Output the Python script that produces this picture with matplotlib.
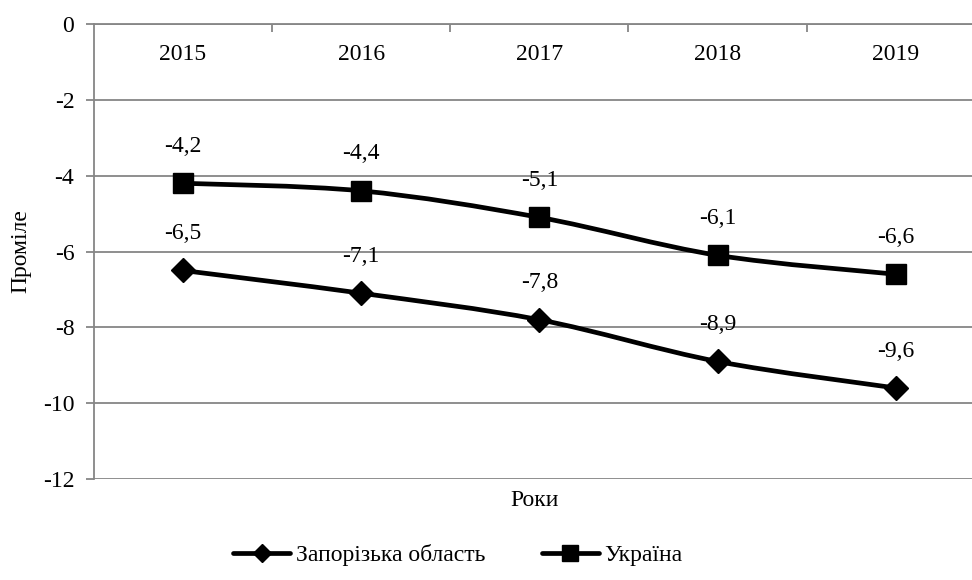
import numpy as np
import matplotlib.pyplot as plt
from matplotlib.path import Path
from matplotlib.patches import PathPatch

plt.rcParams['font.family'] = ['Liberation Serif', 'DejaVu Serif']

years = ['2015', '2016', '2017', '2018', '2019']
zaporizhzhia = [-6.5, -7.1, -7.8, -8.9, -9.6]
ukraine = [-4.2, -4.4, -5.1, -6.1, -6.6]


def smooth_path(x, y):
    # Excel-style smoothed line: cubic Bezier segments with Catmull-Rom tangents
    pts = np.column_stack([x, y]).astype(float)
    verts = [pts[0]]
    codes = [Path.MOVETO]
    n = len(pts)
    for i in range(n - 1):
        p0 = pts[i - 1] if i > 0 else pts[i]
        p1 = pts[i]
        p2 = pts[i + 1]
        p3 = pts[i + 2] if i + 2 < n else pts[i + 1]
        c1 = p1 + (p2 - p0) / 6
        c2 = p2 - (p3 - p1) / 6
        verts += [c1, c2, p2]
        codes += [Path.CURVE4] * 3
    return Path(verts, codes)


fs = 17
lw = 3.4
fig = plt.figure(figsize=(9.72, 5.8), dpi=100)
ax = fig.add_axes([93.7 / 972, 1 - 479 / 580, (985 - 93.7) / 972, (479 - 24) / 580])

x = np.arange(len(years))
grey = '#868686'

for vals, marker, ms in [(zaporizhzhia, 'D', 12), (ukraine, 's', 14)]:
    ax.add_patch(PathPatch(smooth_path(x, vals), fill=False, lw=lw,
                           color='black', capstyle='round', zorder=3))
    ax.plot(x, vals, ls='none', marker=marker, ms=ms, color='black', zorder=4)
    for xi, v in zip(x, vals):
        ax.annotate(f'{v:.1f}'.replace('.', ','), (xi, v), xytext=(0, 19),
                    textcoords='offset points', ha='center', va='bottom',
                    fontsize=fs)

ax.set_xlim(-0.5, len(years) - 0.5)
ax.set_ylim(-12, 0)
ax.set_yticks(range(-12, 1, 2))
ax.set_yticklabels([str(v) for v in range(-12, 1, 2)], fontsize=fs)
ax.yaxis.grid(True, color=grey, lw=1.3)
ax.set_axisbelow(True)

ax.set_xticks(x)
ax.set_xticklabels(years, fontsize=fs)
ax.xaxis.tick_top()
ax.tick_params(axis='x', which='major', length=0, pad=-29.5)
ax.set_xticks(np.arange(0.5, len(years) - 0.5, 1), minor=True)
ax.tick_params(axis='x', which='minor', direction='in', length=6, color=grey, width=1.3)
ax.tick_params(axis='y', length=6, color=grey, width=1.3, pad=8)

for side in ['right', 'bottom']:
    ax.spines[side].set_visible(False)
for side in ['left', 'top']:
    ax.spines[side].set_color(grey)
    ax.spines[side].set_linewidth(1.3)

ax.set_ylabel('Проміле', fontsize=fs, labelpad=8)
fig.text(535 / 972, 1 - 500 / 580, 'Роки', fontsize=fs, ha='center', va='center')

handles = [plt.Line2D([], [], color='black', lw=lw, marker='D', ms=9,
                      solid_capstyle='round'),
           plt.Line2D([], [], color='black', lw=lw, marker='s', ms=11,
                      solid_capstyle='round')]
fig.legend(handles, ['Запорізька область', 'Україна'], loc='center',
           bbox_to_anchor=(458 / 972, 1 - 555 / 580), ncol=2, frameon=False,
           fontsize=fs, handlelength=2.4, handletextpad=0.25, columnspacing=2.4)

fig.savefig('out.png', dpi=100)
